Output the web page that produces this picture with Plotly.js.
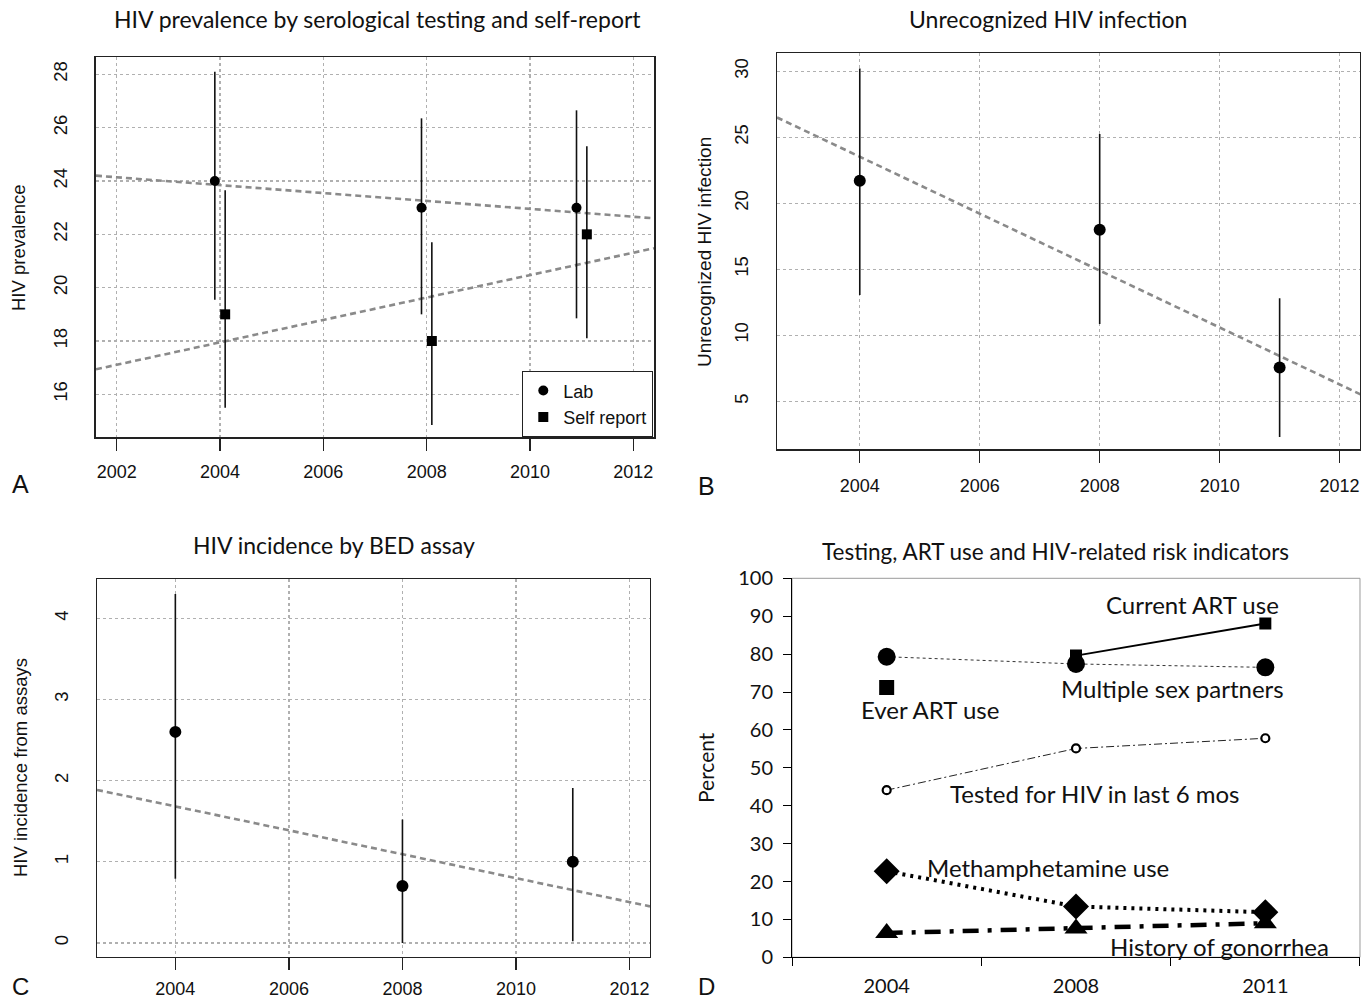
<!DOCTYPE html>
<html>
<head>
<meta charset="utf-8">
<script src="https://cdn.plot.ly/plotly-3.0.1.min.js"></script>
<style>html,body{margin:0;padding:0;background:#fff;} #chart{width:1372px;height:1000px;}</style>
</head>
<body>
<div id="chart"></div>
<script>
// ---------- Data ----------
const years = [2004, 2008, 2011];

// Panel A: HIV prevalence (lab vs self report)
const labPrev = [24, 23, 23];
const labLo   = [19.55, 19.0, 18.85];
const labHi   = [28.1, 26.35, 26.65];
const selfPrev = [19, 18, 22];
const selfLo   = [15.5, 14.85, 18.1];
const selfHi   = [23.65, 21.7, 25.3];
const trendAYears = [2001.6, 2012.4];
const trendLab  = [24.2, 22.6];
const trendSelf = [16.94, 21.48];

// Panel B: Unrecognized HIV infection
const unrec   = [21.7, 18.0, 7.55];
const unrecLo = [13.05, 10.85, 2.3];
const unrecHi = [30.2, 25.25, 12.8];
const trendBYears = [2002.62, 2012.36];
const trendUnrec = [26.5, 5.5];

// Panel C: HIV incidence by BED assay
const incid   = [2.6, 0.7, 1.0];
const incidLo = [0.79, 0.0, 0.02];
const incidHi = [4.3, 1.52, 1.91];
const trendCYears = [2002.62, 2012.36];
const trendIncid = [1.885, 0.45];

// Panel D: Testing, ART use and risk indicators
const catsD = ['2004', '2008', '2011'];
const currentART = [null, 79.6, 88.1];
const everART    = [71.2, null, null];
const multiplePartners = [79.3, 77.4, 76.5];
const testedHIV  = [44.1, 55.1, 57.8];
const methUse    = [22.7, 13.4, 11.9];
const gonorrhea  = [6.4, 7.6, 9.0];

// ---------- Helpers ----------
const RF = 'Liberation Sans, Arial, sans-serif';
const CF = 'Lato, Open Sans, sans-serif';
const errArr = (v, lo, hi) => ({type: 'data', symmetric: false,
  array: hi.map((h, i) => h - v[i]), arrayminus: lo.map((l, i) => v[i] - l),
  width: 0, thickness: 1.6, color: '#111'});
const trendLine = (xs, ys, xa, ya) => ({x: xs, y: ys, xaxis: xa, yaxis: ya, mode: 'lines',
  line: {color: '#8a8a8a', width: 2.6, dash: '6px,4px'}, showlegend: false, hoverinfo: 'skip'});

const traces = [
  trendLine(trendAYears, trendLab, 'x', 'y'),
  trendLine(trendAYears, trendSelf, 'x', 'y'),
  {x: years.map(y => y - 0.1), y: labPrev, xaxis: 'x', yaxis: 'y', mode: 'markers', name: 'Lab',
   marker: {symbol: 'circle', size: 10, color: '#000'}, error_y: errArr(labPrev, labLo, labHi)},
  {x: years.map(y => y + 0.1), y: selfPrev, xaxis: 'x', yaxis: 'y', mode: 'markers', name: 'Self report',
   marker: {symbol: 'square', size: 10, color: '#000'}, error_y: errArr(selfPrev, selfLo, selfHi)},

  trendLine(trendBYears, trendUnrec, 'x2', 'y2'),
  {x: years, y: unrec, xaxis: 'x2', yaxis: 'y2', mode: 'markers', showlegend: false,
   marker: {symbol: 'circle', size: 12, color: '#000'}, error_y: errArr(unrec, unrecLo, unrecHi)},

  trendLine(trendCYears, trendIncid, 'x3', 'y3'),
  {x: years, y: incid, xaxis: 'x3', yaxis: 'y3', mode: 'markers', showlegend: false,
   marker: {symbol: 'circle', size: 12, color: '#000'}, error_y: errArr(incid, incidLo, incidHi)},

  {x: catsD, y: multiplePartners, xaxis: 'x4', yaxis: 'y4', mode: 'lines+markers', showlegend: false,
   line: {color: '#333', width: 1, dash: 'dot'}, marker: {symbol: 'circle', size: 18, color: '#000'}},
  {x: catsD, y: currentART, xaxis: 'x4', yaxis: 'y4', mode: 'lines+markers', showlegend: false,
   line: {color: '#000', width: 2}, marker: {symbol: 'square', size: 12, color: '#000'}},
  {x: catsD, y: everART, xaxis: 'x4', yaxis: 'y4', mode: 'markers', showlegend: false,
   marker: {symbol: 'square', size: 15, color: '#000'}},
  {x: catsD, y: testedHIV, xaxis: 'x4', yaxis: 'y4', mode: 'lines+markers', showlegend: false,
   line: {color: '#222', width: 1, dash: '8px,3px,2px,3px'},
   marker: {symbol: 'circle', size: 8, color: '#fff', line: {color: '#000', width: 2.2}}},
  {x: catsD, y: methUse, xaxis: 'x4', yaxis: 'y4', mode: 'lines+markers', showlegend: false,
   line: {color: '#000', width: 4, dash: '3px,5px'}, marker: {symbol: 'diamond', size: 20, color: '#000'}},
  {x: catsD, y: gonorrhea, xaxis: 'x4', yaxis: 'y4', mode: 'lines+markers', showlegend: false,
   line: {color: '#000', width: 4.5, dash: '16px,9px,4px,9px'}, marker: {symbol: 'triangle-up', size: 20, color: '#000'}}
];

const rAxisX = (domain, range, tickvals, standoff) => ({domain, range, tickvals, ticktext: tickvals.map(String),
  showline: true, mirror: true, linecolor: '#222', linewidth: 1.5, ticks: 'outside', ticklen: 12,
  tickwidth: 1.3, tickcolor: '#222', showgrid: true, gridcolor: '#b0b0b0', griddash: 'dot', gridwidth: 1.2,
  zeroline: false, ticklabelstandoff: standoff, tickfont: {family: RF, size: 18, color: '#111'}});
const rAxisY = (domain, range, tickvals) => ({domain, range, tickvals, ticktext: tickvals.map(String),
  showline: true, mirror: true, linecolor: '#222', linewidth: 1.5, ticks: '', tickangle: -90,
  showgrid: true, gridcolor: '#b0b0b0', griddash: 'dot', gridwidth: 1.2,
  zeroline: false, ticklabelstandoff: 20, tickfont: {family: RF, size: 18.5, color: '#111'}});

const ann = (text, x, y, size, family, angle) => ({text, x: x / 1372, y: 1 - y / 1000,
  xref: 'paper', yref: 'paper', xanchor: 'center', yanchor: 'middle', showarrow: false,
  textangle: angle || 0, font: {family, size, color: '#111'}});

const layout = {
  width: 1372, height: 1000, margin: {l: 0, r: 0, t: 0, b: 0},
  paper_bgcolor: '#fff', plot_bgcolor: '#fff', showlegend: true,
  legend: {x: 653 / 1372, xanchor: 'right', y: 1 - 437 / 1000, yanchor: 'bottom',
    bordercolor: '#222', borderwidth: 1.3, bgcolor: '#fff',
    font: {family: RF, size: 18, color: '#111'}, itemwidth: 30, tracegroupgap: 0},
  xaxis: rAxisX([0.06997, 0.47668], [2001.6, 2012.4], [2002, 2004, 2006, 2008, 2010, 2012], 6),
  yaxis: rAxisY([0.563, 0.943], [14.4, 28.65], [16, 18, 20, 22, 24, 26, 28]),
  xaxis2: Object.assign(rAxisX([0.56633, 0.99125], [2002.62, 2012.34], [2004, 2006, 2008, 2010, 2012], 8), {anchor: 'y2'}),
  yaxis2: Object.assign(rAxisY([0.5507, 0.9467], [1.36, 31.36], [5, 10, 15, 20, 25, 30]), {anchor: 'x2'}),
  xaxis3: Object.assign(rAxisX([0.0707, 0.47376], [2002.62, 2012.36], [2004, 2006, 2008, 2010, 2012], 3), {anchor: 'y3'}),
  yaxis3: Object.assign(rAxisY([0.0433, 0.4207], [-0.17, 4.48], [0, 1, 2, 3, 4]), {anchor: 'x3'}),
  xaxis4: {domain: [0.57726, 0.99125], anchor: 'y4', type: 'category', range: [-0.5, 2.5],
    tickson: 'boundaries', ticks: 'outside', ticklen: 8, tickcolor: '#000', tickwidth: 1,
    showline: true, linecolor: '#000', linewidth: 1, showgrid: false, zeroline: false,
    ticklabelstandoff: 11, tickfont: {family: CF, size: 20, color: '#111'}},
  yaxis4: {domain: [0.0427, 0.4217], anchor: 'x4', range: [0, 100], dtick: 10,
    ticks: 'outside', ticklen: 8, tickcolor: '#000', tickwidth: 1,
    showline: true, linecolor: '#000', linewidth: 1, showgrid: false, zeroline: false,
    ticklabelstandoff: 6, tickfont: {family: CF, size: 20, color: '#111'}},
  shapes: [{type: 'rect', xref: 'x4 domain', yref: 'y4 domain', x0: 0, x1: 1, y0: 0, y1: 1,
    line: {color: '#9a9a9a', width: 1}, layer: 'below'}],
  annotations: [
    ann('HIV prevalence by serological testing and self-report', 377, 19, 23, CF),
    ann('Unrecognized HIV infection', 1048, 19, 23, CF),
    ann('HIV incidence by BED assay', 334, 545, 23, CF),
    ann('Testing, ART use and HIV-related risk indicators', 1055, 551, 22.5, CF),
    ann('HIV prevalence', 18, 248, 18.5, RF, -90),
    ann('Unrecognized HIV infection', 704, 252, 19, RF, -90),
    ann('HIV incidence from assays', 20, 768, 18.5, RF, -90),
    ann('Percent', 705, 768, 21, CF, -90),
    ann('A', 20, 484, 25, RF), ann('B', 706, 486, 25, RF),
    ann('C', 20, 986, 24, RF), ann('D', 706, 986, 24, RF),
    ann('Current ART use', 1192, 604, 24, CF),
    ann('Multiple sex partners', 1172, 688, 24, CF),
    ann('Ever ART use', 930, 709, 24, CF),
    ann('Tested for HIV in last 6 mos', 1095, 793, 24, CF),
    ann('Methamphetamine use', 1048, 867, 24, CF),
    ann('History of gonorrhea', 1219, 946, 24, CF)
  ]
};

Plotly.newPlot('chart', traces, layout, {staticPlot: true, displayModeBar: false});
</script>
</body>
</html>
